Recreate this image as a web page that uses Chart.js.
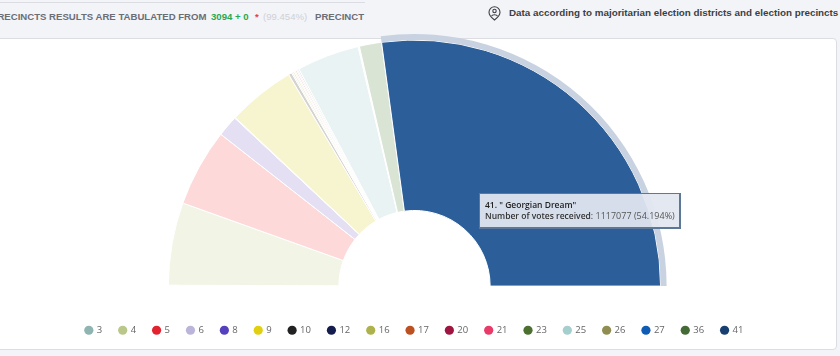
<!DOCTYPE html>
<html>
<head>
<meta charset="utf-8">
<title>Precinct results</title>
<script src="https://cdn.jsdelivr.net/npm/chart.js@4/dist/chart.umd.min.js"></script>
<style>
    html, body { margin: 0; padding: 0; width: 840px; height: 356px; overflow: hidden; background: #f3f4f8; font-family: "Liberation Sans", sans-serif; }
    .abs { position: absolute; white-space: nowrap; }
    #card { left: -6px; top: 38px; width: 843px; height: 312px; background: #fff; border: 1px solid #dcdde2; border-radius: 4px; box-sizing: border-box; }
    #rule { left: 0; top: 2px; width: 365px; height: 1px; background: #dcdde2; }
    .head { top: 11px; font-size: 9.6px; font-weight: bold; color: #6b6e75; line-height: 12px; }
    #place { left: 509px; top: 7px; font-size: 9.84px; font-weight: bold; color: #3c3f45; line-height: 12px; }
    #pin { left: 488px; top: 6px; }
    #chartBox { left: 0; top: 0; width: 840px; height: 356px; }
    #tip { left: 479px; top: 193px; width: 202px; height: 36px; box-sizing: border-box; padding: 5px 0 0 5px; background: rgba(226, 231, 240, 0.94); border: 1px solid #5d7797; border-right-width: 2px; border-bottom-width: 2px; font: 9px/11px "Open Sans", sans-serif; color: #333; }
    #tip .name { font-size: 8.5px; font-weight: 600; color: #222; }
    #tip .label { font-size: 8.5px; font-weight: 600; }
    #tip .value { color: #555; }
</style>
</head>
<body>
<div class="abs" id="card"></div>
<div class="abs" id="rule"></div>
<div class="abs head" style="left:-9px">PRECINCTS RESULTS ARE TABULATED FROM</div>
<div class="abs head" style="left:211px;color:#2aa84f">3094 + 0</div>
<div class="abs head" style="left:255px;color:#e0404a">*</div>
<div class="abs head" style="left:263px;color:#cfd0d6;font-weight:normal">(99.454%)</div>
<div class="abs head" style="left:315px">PRECINCT</div>
<svg class="abs" id="pin" width="13" height="15" viewBox="0 0 13 15" fill="none" stroke="#3c3f45" stroke-width="1.1">
    <path d="M6.5 14 C3.5 11.8 1 9.6 1 6.3 A5.5 5.5 0 0 1 12 6.3 C12 9.6 9.5 11.8 6.5 14 Z"/>
    <circle cx="6.5" cy="5" r="1.7"/>
    <path d="M3.6 10 C4.2 8.4 8.8 8.4 9.4 10"/>
</svg>
<div class="abs" id="place">Data according to majoritarian election districts and election precincts</div>
<div class="abs" id="chartBox"><canvas id="precinctChart" width="840" height="356"></canvas></div>
<div class="abs" id="tip"></div>

<script>
const partyNumbers = ['3', '4', '5', '6', '8', '9', '10', '12', '16', '17', '20', '21', '23', '25', '26', '27', '36', '41'];
const votes = [2500, 223000, 210000, 57000, 2000, 183000, 9000, 3000, 5000, 3000, 4000, 3000, 4000, 169000, 2000, 1500, 60000, 1117077];
const legendColors = ['#8fb5b0', '#b9c78a', '#e2232f', '#bbb5da', '#5540bd', '#e0d010', '#222222', '#151d4f', '#aeb24c', '#bd5020', '#a01540', '#e93a68', '#4c7030', '#a5cfcd', '#8f8e50', '#0f5cb5', '#446a35', '#173f70'];
const sliceColors = ['#e8efee', '#f2f4e6', '#fdd9da', '#e4dff3', '#ddd9f3', '#f7f5cf', '#d6d3cf', '#d0d2dc', '#eff0d9', '#f5dfd5', '#ebd5dc', '#fbd8e0', '#dbe3d5', '#e9f3f4', '#e8e8d9', '#cfe0f3', '#d9e4d5', '#2c5f99'];
const haloColors = partyNumbers.map((n) => (n === '41' ? '#c8d2e1' : 'rgba(0,0,0,0)'));
const hoveredParty = '41';
const hoveredName = '" Georgian Dream"';
const hoveredShare = '54.194%';

// Initialize the half doughnut, the outer thin ring is the hover halo of party 41
const initPrecinctChart = () => {
    const ctx = document.getElementById('precinctChart').getContext('2d');
    new Chart(ctx, {
        type: 'doughnut',
        data: {
            labels: partyNumbers,
            datasets: [{
                data: votes,
                backgroundColor: haloColors,
                borderWidth: 0,
                weight: 6
            }, {
                data: votes,
                backgroundColor: sliceColors,
                borderColor: '#ffffff',
                borderWidth: 1,
                weight: 170
            }]
        },
        options: {
            responsive: false,
            animation: false,
            rotation: -90,
            circumference: 180,
            cutout: '30%',
            events: [],
            layout: { padding: { top: 34, bottom: 11, right: 11 } },
            plugins: {
                tooltip: { enabled: false },
                legend: {
                    position: 'bottom',
                    title: { display: true, text: ' ', font: { size: 1 }, padding: { top: 0, bottom: 21 } },
                    labels: {
                        usePointStyle: true,
                        pointStyle: 'circle',
                        boxWidth: 6.5,
                        boxHeight: 6.5,
                        padding: 17.2,
                        color: '#444444',
                        font: { family: '"Open Sans"', size: 9.5 },
                        generateLabels: () => partyNumbers.map((n, i) => ({
                            text: n,
                            fillStyle: legendColors[i],
                            strokeStyle: legendColors[i],
                            lineWidth: 0,
                            pointStyle: 'circle',
                            index: i
                        }))
                    }
                }
            }
        }
    });

    const i = partyNumbers.indexOf(hoveredParty);
    document.getElementById('tip').innerHTML =
        '<span class="name">' + hoveredParty + '. ' + hoveredName + '</span><br><span class="label">Number of votes received</span>: <span class="value">' +
        votes[i] + ' (' + hoveredShare + ')</span>';
};

document.addEventListener('DOMContentLoaded', initPrecinctChart);
</script>
</body>
</html>
